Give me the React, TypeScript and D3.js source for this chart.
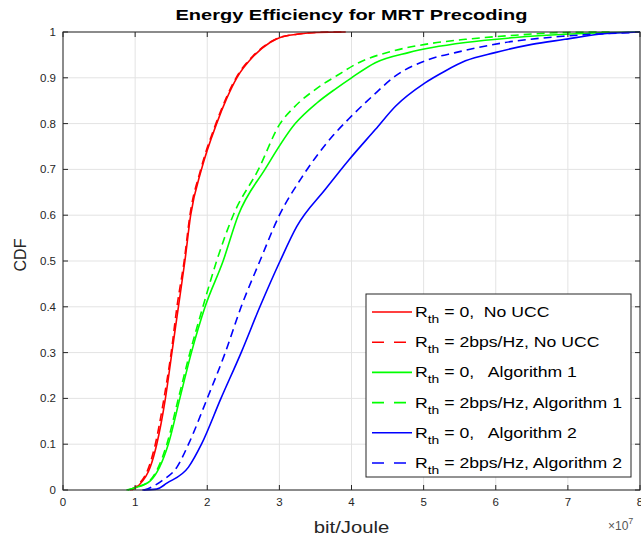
import React from "react";
import * as d3 from "d3";

const xTicks = [0, 1, 2, 3, 4, 5, 6, 7, 8];
const yTicks = [0, 0.1, 0.2, 0.3, 0.4, 0.5, 0.6, 0.7, 0.8, 0.9, 1];
const yTickLabels = ["0", "0.1", "0.2", "0.3", "0.4", "0.5", "0.6", "0.7", "0.8", "0.9", "1"];

// x in units of 1e7 bit/Joule, y = CDF
const redSolidX = [0.95, 1.05, 1.21, 1.3, 1.42, 1.51, 1.6, 1.69, 1.77, 1.92, 2.13, 2.27, 2.41, 2.64, 2.87, 3.01, 3.25, 3.52, 3.92];
const redSolidY = [0, 0.01, 0.05, 0.1, 0.2, 0.3, 0.4, 0.5, 0.6, 0.7, 0.8, 0.855, 0.9, 0.947, 0.977, 0.988, 0.995, 0.999, 1];
const redDashX = [0.93, 1.03, 1.19, 1.28, 1.4, 1.5, 1.58, 1.68, 1.76, 1.91, 2.12, 2.26, 2.4, 2.63, 2.86, 3.0, 3.24, 3.5, 3.9];
const redDashY = [0, 0.01, 0.05, 0.1, 0.2, 0.3, 0.4, 0.5, 0.6, 0.7, 0.8, 0.855, 0.9, 0.947, 0.977, 0.988, 0.995, 0.999, 1];

const greenSolidX = [0.9, 1.0, 1.21, 1.46, 1.62, 1.78, 1.97, 2.22, 2.43, 2.8, 3.22, 3.52, 3.78, 4.0, 4.33, 4.79, 5.12, 5.58, 6.27, 6.96, 7.66, 8.0];
const greenSolidY = [0, 0.005, 0.02, 0.1, 0.2, 0.3, 0.4, 0.5, 0.6, 0.7, 0.8, 0.845, 0.876, 0.9, 0.933, 0.955, 0.966, 0.977, 0.988, 0.995, 0.999, 1];
const greenDashX = [0.88, 1.0, 1.2, 1.44, 1.6, 1.76, 1.94, 2.13, 2.36, 2.71, 3.01, 3.2, 3.52, 3.8, 4.1, 4.56, 5.02, 5.58, 6.27, 6.96, 7.6];
const greenDashY = [0, 0.005, 0.02, 0.1, 0.2, 0.3, 0.4, 0.5, 0.6, 0.7, 0.8, 0.835, 0.877, 0.905, 0.933, 0.958, 0.973, 0.984, 0.993, 0.999, 1];

const blueSolidX = [1.1, 1.3, 1.44, 1.74, 1.92, 2.19, 2.47, 2.73, 3.01, 3.24, 3.64, 3.96, 4.33, 4.61, 5.02, 5.3, 5.58, 5.99, 6.5, 6.96, 7.43, 8.0];
const blueSolidY = [0, 0.002, 0.015, 0.05, 0.1, 0.2, 0.3, 0.4, 0.5, 0.575, 0.657, 0.72, 0.787, 0.838, 0.889, 0.915, 0.937, 0.955, 0.973, 0.984, 0.995, 1];
const blueDashX = [1.12, 1.18, 1.37, 1.58, 1.74, 2.0, 2.25, 2.47, 2.73, 3.0, 3.3, 3.52, 3.75, 3.96, 4.29, 4.61, 5.07, 5.44, 6.13, 6.96, 7.9];
const blueDashY = [0, 0.003, 0.02, 0.05, 0.1, 0.2, 0.3, 0.4, 0.5, 0.6, 0.68, 0.73, 0.775, 0.81, 0.86, 0.904, 0.94, 0.955, 0.977, 0.991, 0.999];

const legendLabels = [
  "= 0,  No UCC",
  "= 2bps/Hz, No UCC",
  "= 0,   Algorithm 1",
  "= 2bps/Hz, Algorithm 1",
  "= 0,   Algorithm 2",
  "= 2bps/Hz, Algorithm 2",
];

const series = [
  { xs: redSolidX, ys: redSolidY, color: "#ff0000", dash: false },
  { xs: redDashX, ys: redDashY, color: "#ff0000", dash: true },
  { xs: greenSolidX, ys: greenSolidY, color: "#00ff00", dash: false },
  { xs: greenDashX, ys: greenDashY, color: "#00ff00", dash: true },
  { xs: blueSolidX, ys: blueSolidY, color: "#0000ff", dash: false },
  { xs: blueDashX, ys: blueDashY, color: "#0000ff", dash: true },
];

const FONT = "'Liberation Sans', Arial, Helvetica, sans-serif";
const AX = "#262626";

export default function App() {
  const W = 641, H = 539;
  const left = 63, right = 640, top = 32, bottom = 490;
  const x = d3.scaleLinear().domain([0, 8]).range([left, right]);
  const y = d3.scaleLinear().domain([0, 1]).range([bottom, top]);
  const line = d3
    .line<[number, number]>()
    .x((d) => x(d[0]))
    .y((d) => y(d[1]))
    .curve(d3.curveMonotoneX);

  const lg = { x: 366, y: 294, w: 265, h: 183 };
  const rowH = 30.2;
  const sx = 1.26;
  const cx = (left + right) / 2;

  return (
    <svg width={W} height={H} style={{ position: "absolute", left: 0, top: 0, background: "#fff" }} fontFamily={FONT}>
      <rect x={0} y={0} width={W} height={H} fill="#fff" />
      {/* grid */}
      {xTicks.map((t) => (
        <line key={"gx" + t} x1={x(t)} x2={x(t)} y1={top} y2={bottom} stroke="#e3e3e3" strokeWidth={1} />
      ))}
      {yTicks.map((t) => (
        <line key={"gy" + t} x1={left} x2={right} y1={y(t)} y2={y(t)} stroke="#e3e3e3" strokeWidth={1} />
      ))}
      {/* series */}
      {series.map((s, i) => (
        <path
          key={"s" + i}
          d={line(s.xs.map((v, j) => [v, s.ys[j]] as [number, number])) || ""}
          fill="none"
          stroke={s.color}
          strokeWidth={1.6}
          strokeDasharray={s.dash ? "8,5" : undefined}
          strokeLinejoin="round"
        />
      ))}
      {/* axes box */}
      <rect x={left} y={top} width={right - left} height={bottom - top} fill="none" stroke={AX} strokeWidth={1} />
      {xTicks.map((t) => (
        <g key={"tx" + t}>
          <line x1={x(t)} x2={x(t)} y1={bottom} y2={bottom - 5} stroke={AX} />
          <line x1={x(t)} x2={x(t)} y1={top} y2={top + 5} stroke={AX} />
          <text x={x(t)} y={506} textAnchor="middle" fontSize={11.5} fill={AX}>{t}</text>
        </g>
      ))}
      {yTicks.map((t, i) => (
        <g key={"ty" + t}>
          <line x1={left} x2={left + 5} y1={y(t)} y2={y(t)} stroke={AX} />
          <line x1={right} x2={right - 5} y1={y(t)} y2={y(t)} stroke={AX} />
          <text x={56} y={y(t) + 4} textAnchor="end" fontSize={11.5} fill={AX}>{yTickLabels[i]}</text>
        </g>
      ))}
      {/* exponent */}
      <text x={608} y={530} fontSize={12} fill="#555">×10<tspan dy={-6} fontSize={9}>7</tspan></text>
      {/* labels */}
      <g transform={`translate(${cx},20) scale(1.29,1)`}>
        <text x={0} y={0} textAnchor="middle" fontSize={15.5} fontWeight="bold" fill="#000">
          Energy Efficiency for MRT Precoding
        </text>
      </g>
      <g transform={`translate(${cx},533) scale(1.27,1)`}>
        <text x={0} y={0} textAnchor="middle" fontSize={16} fill={AX}>bit/Joule</text>
      </g>
      <text transform={`translate(26,255) rotate(-90)`} textAnchor="middle" fontSize={16} fill={AX}>CDF</text>
      {/* legend */}
      <rect x={lg.x} y={lg.y} width={lg.w} height={lg.h} fill="#fff" stroke={AX} strokeWidth={1} />
      {series.map((s, i) => {
        const cy = 312 + i * rowH;
        return (
          <g key={"lg" + i}>
            <line x1={372} x2={412} y1={cy} y2={cy} stroke={s.color} strokeWidth={1.6} strokeDasharray={s.dash ? "12,10" : undefined} />
            <g transform={`translate(415,${cy + 5}) scale(${sx},1)`}>
              <text x={0} y={0} fontSize={14} fill="#000" style={{ whiteSpace: "pre" }}>
                R<tspan dy={6} fontSize={11}>th</tspan>
                <tspan dy={-6}>{" " + legendLabels[i]}</tspan>
              </text>
            </g>
          </g>
        );
      })}
    </svg>
  );
}
